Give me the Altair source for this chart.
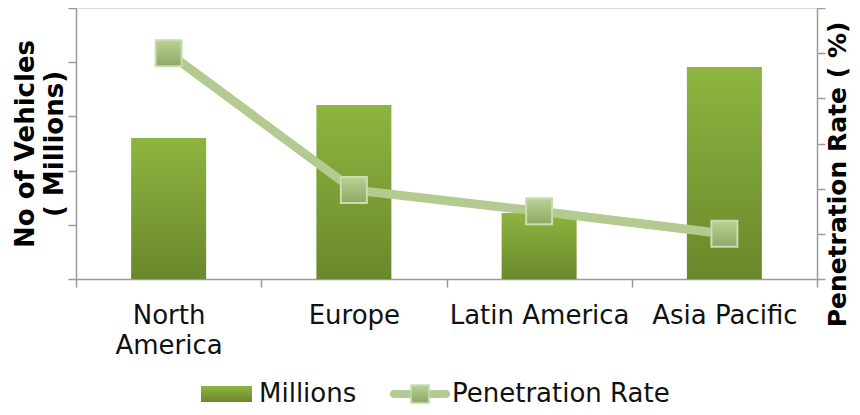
import altair as alt
import pandas as pd

# ---- data ----
regions = ["North America", "Europe", "Latin America", "Asia Pacific"]
millions = [26.0, 32.1, 12.2, 39.1]
penetration = [50.0, 19.7, 15.0, 10.0]
left_ticks = [0, 10, 20, 30, 40, 50]
right_ticks = [0, 10, 20, 30, 40, 50, 60]
legend_labels = ["Millions", "Penetration Rate"]

df = pd.DataFrame({"region": regions, "millions": millions, "penetration": penetration})

W, H = 741, 271
FONT = "DejaVu Sans"
AXIS_COLOR = "#9a9a9a"
TEXT_COLOR = "#111111"
LINE_COLOR = "#b3cb91"

bar_grad = alt.Gradient(
    gradient="linear",
    stops=[alt.GradientStop(color="#8db540", offset=0),
           alt.GradientStop(color="#6a882c", offset=1)],
    x1=0, x2=0, y1=0, y2=1,
)
marker_grad = alt.Gradient(
    gradient="linear",
    stops=[alt.GradientStop(color="#b8d295", offset=0),
           alt.GradientStop(color="#8ea866", offset=1)],
    x1=0, x2=0, y1=0, y2=1,
)

x_enc = alt.X(
    "region:N", sort=regions,
    scale=alt.Scale(paddingInner=0, paddingOuter=0),
    axis=alt.Axis(
        title=None, labelFont=FONT, labelFontSize=26, labelColor=TEXT_COLOR,
        labelExpr="datum.label == 'North America' ? split(datum.label, ' ') : datum.label",
        labelLineHeight=30, labelPadding=15, labelAngle=0,
        tickBand="extent", tickSize=8, tickColor=AXIS_COLOR, tickWidth=1.5,
        domainColor=AXIS_COLOR, domainWidth=1.5, grid=False,
    ),
)

y_left = alt.Y(
    "millions:Q",
    scale=alt.Scale(domain=[0, 50], nice=False, zero=True),
    axis=alt.Axis(
        values=left_ticks, labels=False, grid=False,
        title=["No of Vehicles", "( Millions)"], titleFont=FONT, titleFontWeight="bold",
        titleFontSize=26, titleColor="#000000", titleLineHeight=29, titlePadding=0,
        tickSize=8, tickColor=AXIS_COLOR, tickWidth=1.5,
        domainColor=AXIS_COLOR, domainWidth=1.5,
    ),
)

y_right = alt.Y(
    "penetration:Q",
    scale=alt.Scale(domain=[0, 60], nice=False, zero=True),
    axis=alt.Axis(
        orient="right", values=right_ticks, labels=False, grid=False,
        title="Penetration Rate ( %)", titleFont=FONT, titleFontWeight="bold",
        titleFontSize=25, titleColor="#000000", titleAngle=270, titleY=166,
        titleBaseline="top", titlePadding=0,
        tickSize=8, tickColor=AXIS_COLOR, tickWidth=1.5,
        domainColor=AXIS_COLOR, domainWidth=1.5,
    ),
)

base = alt.Chart(df)
bars = base.mark_bar(size=75, color=bar_grad).encode(x=x_enc, y=y_left)
line = base.mark_line(color=LINE_COLOR, strokeWidth=9).encode(x=x_enc, y=y_right)
points = base.mark_square(size=676, fill=marker_grad, stroke="#cadcb0",
                          strokeWidth=2, opacity=1).encode(x=x_enc, y=y_right)

# ---- manual legend ----
leg_df1 = pd.DataFrame({"label": [legend_labels[0]]})
leg_df2 = pd.DataFrame({"label": [legend_labels[1]]})
leg_rect = alt.Chart(leg_df1).mark_rect(color=bar_grad).encode(
    x=alt.value(125), x2=alt.value(176), y=alt.value(378), y2=alt.value(394))
leg_text1 = alt.Chart(leg_df1).mark_text(
    align="left", baseline="alphabetic", font=FONT, fontSize=26, color=TEXT_COLOR
).encode(x=alt.value(183), y=alt.value(394), text="label:N")
leg_line = alt.Chart(leg_df2).mark_rule(color=LINE_COLOR, strokeWidth=8, strokeCap="round").encode(
    x=alt.value(318), x2=alt.value(370), y=alt.value(386))
leg_sq = alt.Chart(leg_df2).mark_square(size=324, fill=marker_grad, stroke="#cadcb0",
                                        strokeWidth=1.5, opacity=1).encode(
    x=alt.value(344), y=alt.value(386))
leg_text2 = alt.Chart(leg_df2).mark_text(
    align="left", baseline="alphabetic", font=FONT, fontSize=26, color=TEXT_COLOR
).encode(x=alt.value(376), y=alt.value(394), text="label:N")

chart = alt.layer(
    bars, alt.layer(line, points), leg_rect, leg_text1, leg_line, leg_sq, leg_text2
).resolve_scale(y="independent").properties(
    width=W, height=H,
    autosize=alt.AutoSizeParams(type="none"),
    padding={"left": 68, "top": 0, "right": 844 - 68 - W, "bottom": 128},
).configure_view(stroke=None).configure(background="white")

chart.save("out.html", embed_options={"renderer": "svg", "actions": False})
